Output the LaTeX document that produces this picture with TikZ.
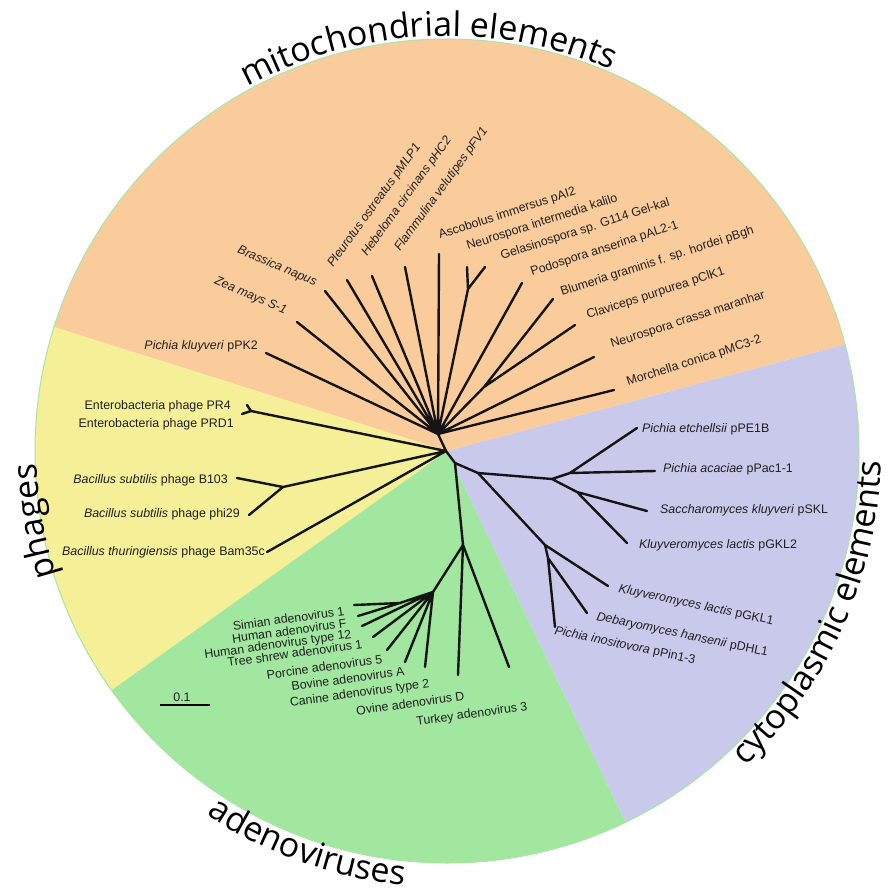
\documentclass[tikz,border=0pt]{standalone}
\usepackage{fontspec}
\setmainfont{Liberation Sans}
\newfontfamily\groupfont{Open Sans}
\usetikzlibrary{decorations.text}

\definecolor{mitofill}{HTML}{FBCC9B}
\definecolor{phagefill}{HTML}{F5F098}
\definecolor{adenofill}{HTML}{A1E7A0}
\definecolor{cytofill}{HTML}{C9C9EC}
\definecolor{rim}{HTML}{A6E6A2}

\tikzset{
  branch/.style={line width=2.4pt, black!92, line cap=round, line join=round},
  taxon/.style={font=\fontsize{12.4}{14}\selectfont, inner sep=0pt, text=black!88},
  grouplabel/.style={decorate, decoration={text along path, text align=center,
      text={|\groupfont\fontsize{34}{34}\selectfont|#1}}},
}

\begin{document}
\begin{tikzpicture}[x=1pt,y=-1pt]
  \useasboundingbox (0,0) rectangle (889,892);
  \coordinate (O) at (447,451);

  % coloured sectors
  \fill[mitofill]  (O) -- ++(-15:412)    arc[start angle=-15,    end angle=-162.5, radius=412] -- cycle;
  \fill[phagefill] (O) -- ++(-162.5:412) arc[start angle=-162.5, end angle=-215.5, radius=412] -- cycle;
  \fill[adenofill] (O) -- ++(-215.5:412) arc[start angle=-215.5, end angle=-295.7, radius=412] -- cycle;
  \fill[cytofill]  (O) -- ++(-295.7:412) arc[start angle=-295.7, end angle=-375,   radius=412] -- cycle;
  \draw[rim, line width=1pt] (O) circle[radius=412];

  % group names round the rim
  \path[grouplabel={mitochondrial elements}] ([shift={(-122.7:415)}]O) arc[start angle=-122.7, end angle=-62.7, radius=415];
  \path[grouplabel={phages}] ([shift={(-219.7:410)}]O) arc[start angle=-219.7, end angle=-159.7, radius=410];
  \path[grouplabel={adenoviruses}] ([shift={(-220.5:436)}]O) arc[start angle=-220.5, end angle=-280.5, radius=436];
  \path[grouplabel={cytoplasmic elements}] ([shift={(54:434)}]O) arc[start angle=54, end angle=-6, radius=434];

  % inner points of the tree
  \coordinate (C)   at (446,451);
  \coordinate (M)   at (438,434);
  \coordinate (N1)  at (468,289);
  \coordinate (N2)  at (484,387);
  \coordinate (E)   at (251,411);
  \coordinate (Bs)  at (283,487);
  \coordinate (A0)  at (455,463);
  \coordinate (A1)  at (463,545);
  \coordinate (S1)  at (433,592);
  \coordinate (S2)  at (400,603);
  \coordinate (P0)  at (478,473);
  \coordinate (P1)  at (552,479);
  \coordinate (P1a) at (570,473);
  \coordinate (P1b) at (577,492);
  \coordinate (P2)  at (545,545);
  \coordinate (P2a) at (548,558);

  % tips
  \coordinate (lPK2)  at (266,353);
  \coordinate (lZea)  at (297,322);
  \coordinate (lBra)  at (325,291);
  \coordinate (lPle)  at (347,280);
  \coordinate (lHeb)  at (372,276);
  \coordinate (lFla)  at (405,267);
  \coordinate (lAsc)  at (439,254);
  \coordinate (lNin)  at (467,267);
  \coordinate (lGel)  at (485,267);
  \coordinate (lPod)  at (522,283);
  \coordinate (lBlu)  at (553,299);
  \coordinate (lCla)  at (575,325);
  \coordinate (lNcr)  at (594,357);
  \coordinate (lMor)  at (614,390);
  \coordinate (lPR4)  at (247,405);
  \coordinate (lPRD1) at (242,414);
  \coordinate (lB103) at (237,478);
  \coordinate (lphi)  at (249,515);
  \coordinate (lBam)  at (267,552);
  \coordinate (lPet)  at (637,428);
  \coordinate (lPac)  at (655,471);
  \coordinate (lSkl)  at (647,511);
  \coordinate (lGKL2) at (627,543);
  \coordinate (lGKL1) at (608,586);
  \coordinate (lDHL)  at (587,613);
  \coordinate (lPin)  at (555,627);
  \coordinate (lSim)  at (354,605);
  \coordinate (lHF)   at (358,616);
  \coordinate (lH12)  at (362,626);
  \coordinate (lTS)   at (373,637);
  \coordinate (lPor)  at (387,650);
  \coordinate (lBov)  at (405,662);
  \coordinate (lCan)  at (425,667);
  \coordinate (lOvi)  at (458,675);
  \coordinate (lTur)  at (509,667);

  % branches
  \draw[branch] (C) -- (M) (C) -- (A0) (A0) -- (A1) (A0) -- (P0);
  \draw[branch] (M) -- (lPK2) (M) -- (lZea) (M) -- (lBra) (M) -- (lPle) (M) -- (lHeb)
                (M) -- (lFla) (M) -- (lAsc) (M) -- (N1) (N1) -- (lNin) (N1) -- (lGel)
                (M) -- (lPod) (M) -- (N2) (N2) -- (lBlu) (N2) -- (lCla) (M) -- (lNcr) (M) -- (lMor);
  \draw[branch] (C) -- (E) (E) -- (lPR4) (E) -- (lPRD1)
                (C) -- (Bs) (Bs) -- (lB103) (Bs) -- (lphi) (C) -- (lBam);
  \draw[branch] (P0) -- (P1) (P1) -- (P1a) (P1a) -- (lPet) (P1a) -- (lPac)
                (P1) -- (P1b) (P1b) -- (lSkl) (P1b) -- (lGKL2)
                (P0) -- (P2) (P2) -- (lGKL1) (P2) -- (P2a) (P2a) -- (lDHL) (P2a) -- (lPin);
  \draw[branch] (A1) -- (S1) (A1) -- (lOvi) (A1) -- (lTur)
                (S1) -- (S2) (S2) -- (lSim) (S2) -- (lHF) (S1) -- (lH12) (S1) -- (lTS)
                (S1) -- (lPor) (S1) -- (lBov) (S1) -- (lCan);

  % mitochondrial labels
  \node[taxon, anchor=base east] (tPK2) at (258,349) {\textit{Pichia kluyveri} pPK2};
  \node[taxon, anchor=base east, rotate=-23] (tZea) at (285,314) {\textit{Zea mays S-1}};
  \node[taxon, anchor=base east, rotate=-23] (tBra) at (315,286) {\textit{Brassica napus}};
  \node[taxon, anchor=base west, rotate=54] (tPle) at (333,268) {\textit{Pleurotus ostreatus pMLP1}};
  \node[taxon, anchor=base west, rotate=54] (tHeb) at (367,257) {\textit{Hebeloma circinans pHC2}};
  \node[taxon, anchor=base west, rotate=54] (tFla) at (400,252) {\textit{Flammulina velutipes pFV1}};
  \node[taxon, anchor=base west, rotate=18] (tAsc) at (440,239) {Ascobolus immersus pAI2};
  \node[taxon, anchor=base west, rotate=18] (tNin) at (468,250) {Neurospora intermedia kalilo};
  \node[taxon, anchor=base west, rotate=18] (tGel) at (502,260) {Gelasinospora sp. G114 Gel-kal};
  \node[taxon, anchor=base west, rotate=18] (tPod) at (532,276) {Podospora anserina pAL2-1};
  \node[taxon, anchor=base west, rotate=18] (tBlu) at (562,296) {Blumeria graminis f. sp. hordei pBgh};
  \node[taxon, anchor=base west, rotate=18] (tCla) at (588,319) {Claviceps purpurea pClK1};
  \node[taxon, anchor=base west, rotate=18] (tNcr) at (612,348) {Neurospora crassa maranhar};
  \node[taxon, anchor=base west, rotate=18] (tMor) at (628,386) {Morchella conica pMC3-2};

  % phage labels
  \node[taxon, anchor=base east] (tPR4)  at (231,409) {Enterobacteria phage PR4};
  \node[taxon, anchor=base east] (tPRD1) at (234,427) {Enterobacteria phage PRD1};
  \node[taxon, anchor=base east] (tB103) at (228,483) {\textit{Bacillus subtilis} phage B103};
  \node[taxon, anchor=base east] (tphi)  at (240,517) {\textit{Bacillus subtilis} phage phi29};
  \node[taxon, anchor=base east] (tBam)  at (265,555) {\textit{Bacillus thuringiensis} phage Bam35c};

  % cytoplasmic labels
  \node[taxon, anchor=base west] (tPet)  at (642,432) {\textit{Pichia etchellsii} pPE1B};
  \node[taxon, anchor=base west] (tPac)  at (663,472) {\textit{Pichia acaciae} pPac1-1};
  \node[taxon, anchor=base west] (tSkl)  at (660,513) {\textit{Saccharomyces kluyveri} pSKL};
  \node[taxon, anchor=base west] (tGKL2) at (639,548) {\textit{Kluyveromyces lactis} pGKL2};
  \node[taxon, anchor=base west, rotate=-12] (tGKL1) at (618,592) {\textit{Kluyveromyces lactis} pGKL1};
  \node[taxon, anchor=base west, rotate=-12] (tDHL)  at (596,620) {\textit{Debaryomyces hansenii} pDHL1};
  \node[taxon, anchor=base west, rotate=-12] (tPin)  at (554,634) {\textit{Pichia inositovora} pPin1-3};

  % adenovirus labels
  \node[taxon, anchor=base east, rotate=8] (tSim) at (345,615) {Simian adenovirus 1};
  \node[taxon, anchor=base east, rotate=8] (tHF)  at (347,627) {Human adenovirus F};
  \node[taxon, anchor=base east, rotate=8] (tH12) at (352,638) {Human adenovirus type 12};
  \node[taxon, anchor=base east, rotate=8] (tTS)  at (363,648) {Tree shrew adenovirus 1};
  \node[taxon, anchor=base east, rotate=8] (tPor) at (383,663) {Porcine adenovirus 5};
  \node[taxon, anchor=base east, rotate=8] (tBov) at (405,675) {Bovine adenovirus A};
  \node[taxon, anchor=base east, rotate=8] (tCan) at (430,687) {Canine adenovirus type 2};
  \node[taxon, anchor=base east, rotate=8] (tOvi) at (465,700) {Ovine adenovirus D};
  \node[taxon, anchor=base east, rotate=8] (tTur) at (528,710) {Turkey adenovirus 3};

  % scale bar
  \coordinate (sb1) at (160,705);
  \coordinate (sb2) at (210,705);
  \draw[line width=2pt] (sb1) -- (sb2);
  \node[taxon, anchor=base] (sbl) at (182,701) {0.1};
\end{tikzpicture}
\end{document}
